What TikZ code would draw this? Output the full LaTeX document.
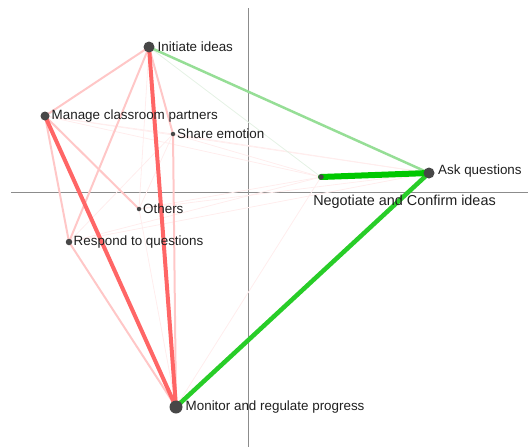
\documentclass[tikz,border=0pt]{standalone}
\usepackage{fontspec}
\setmainfont{Liberation Sans}
\begin{document}
\begin{tikzpicture}[x=1pt,y=-1pt,
  dot/.style={circle,fill=black!72,inner sep=0pt,minimum size=#1},
  lbl/.style={anchor=west,inner sep=0pt,font=\fontsize{13.4}{15}\selectfont,text=black!88},
  axis/.style={draw=black!45,line width=0.9pt},
  strongred/.style={draw=red!60,line width=4pt,line cap=round},
  pink/.style={draw=red!22,line width=2pt,line cap=round},
  faint/.style={draw=red!7,line width=0.8pt},
  faintgreen/.style={draw=green!50!black!10,line width=0.8pt},
  greenA/.style={draw={rgb,255:red,0;green,200;blue,0},line width=6pt,line cap=round},
  greenB/.style={draw={rgb,255:red,40;green,205;blue,40},line width=4.5pt,line cap=round},
  greenC/.style={draw={rgb,255:red,150;green,222;blue,150},line width=2.5pt,line cap=round}]
\useasboundingbox (0,0) rectangle (528,447);
% axes
\coordinate (xl) at (11,192);
\coordinate (xr) at (528,192);
\coordinate (yt) at (248,8);
\coordinate (yb) at (248,447);
\draw[axis] (xl) -- (xr);
\draw[axis] (yt) -- (yb);
% node positions
\coordinate (init) at (149,47);
\coordinate (man) at (45,116);
\coordinate (share) at (173,134);
\coordinate (oth) at (139,209);
\coordinate (resp) at (69,242);
\coordinate (mon) at (176,407);
\coordinate (ask) at (429,173);
\coordinate (neg) at (321,177);
% faint edges
\draw[faint] (man) -- (ask);
\draw[faint] (man) -- (neg);
\draw[faint] (share) -- (ask);
\draw[faint] (share) -- (neg);
\draw[faint] (oth) -- (ask);
\draw[faint] (oth) -- (neg);
\draw[faint] (resp) -- (ask);
\draw[faint] (resp) -- (neg);
\draw[faint] (mon) -- (neg);
\draw[faint] (init) -- (oth);
\draw[faint] (share) -- (oth);
\draw[faint] (share) -- (resp);
\draw[faint] (oth) -- (mon);
\draw[faint] (man) -- (share);
\draw[faintgreen] (init) -- (neg);
% light pink edges
\draw[pink] (init) -- (man);
\draw[pink] (init) -- (share);
\draw[pink] (init) -- (resp);
\draw[pink] (share) -- (mon);
\draw[pink] (man) -- (resp);
\draw[pink] (man) -- (oth);
\draw[pink] (resp) -- (mon);
% strong edges
\draw[strongred] (init) -- (mon);
\draw[strongred] (man) -- (mon);
\draw[greenC] (init) -- (ask);
\draw[greenB] (mon) -- (ask);
\draw[greenA] (neg) -- (ask);
% dots
\node[dot=11pt] (dinit) at (init) {};
\node[dot=9pt] (dman) at (man) {};
\node[dot=4.5pt] (dshare) at (share) {};
\node[dot=4.5pt] (doth) at (oth) {};
\node[dot=6.5pt] (dresp) at (resp) {};
\node[dot=13pt] (dmon) at (mon) {};
\node[dot=11pt] (dask) at (ask) {};
\node[dot=5.5pt] (dneg) at (neg) {};
% labels
\node[lbl] (linit) at (157.5,47) {Initiate ideas};
\node[lbl] (lman) at (51.5,116) {Manage classroom partners};
\node[lbl] (lshare) at (177,134) {Share emotion};
\node[lbl] (loth) at (143,209) {Others};
\node[lbl] (lresp) at (73.5,242) {Respond to questions};
\node[lbl] (lmon) at (185.5,407) {Monitor and regulate progress};
\node[lbl] (lask) at (438,171) {Ask questions};
\node[lbl,anchor=center,font=\fontsize{14.4}{16}\selectfont] (lneg) at (404.5,202) {Negotiate and Confirm ideas};
\end{tikzpicture}
\end{document}
